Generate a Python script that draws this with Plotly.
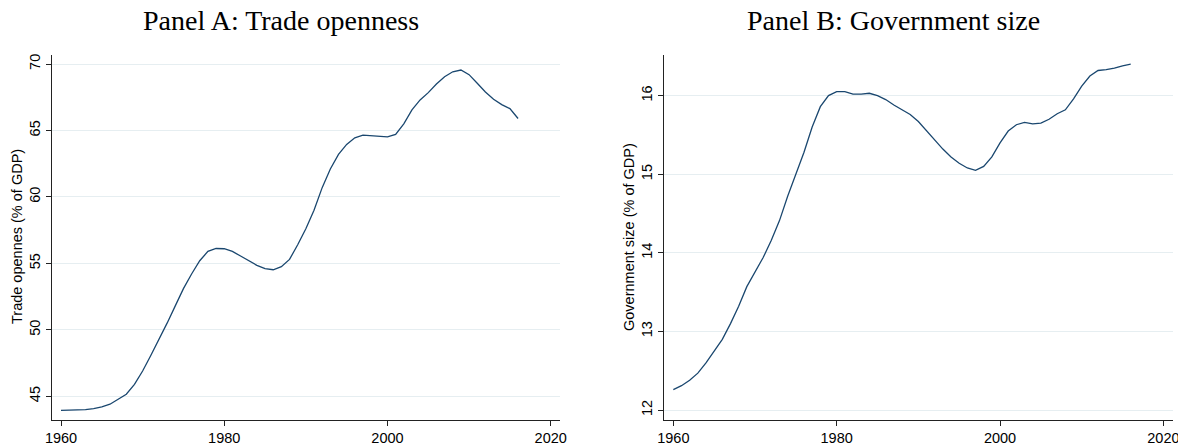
import plotly.graph_objects as go

years = list(range(1960, 2017))

trade_openness = [
    43.94, 43.95, 43.96, 44.00, 44.07, 44.20, 44.40, 44.75, 45.15, 45.90,
    46.90, 48.07, 49.27, 50.50, 51.80, 53.10, 54.20, 55.20, 55.90, 56.12,
    56.10, 55.90, 55.55, 55.20, 54.85, 54.60, 54.52, 54.75, 55.30, 56.40,
    57.60, 59.00, 60.70, 62.10, 63.20, 63.95, 64.45, 64.65, 64.62, 64.58,
    64.52, 64.70, 65.50, 66.55, 67.30, 67.85, 68.50, 69.05, 69.42, 69.55,
    69.20, 68.55, 67.90, 67.35, 66.95, 66.65, 65.90,
]

government_size = [
    12.26, 12.31, 12.38, 12.47, 12.60, 12.75, 12.90, 13.10, 13.32, 13.57,
    13.76, 13.94, 14.16, 14.41, 14.72, 15.01, 15.28, 15.60, 15.86, 16.00,
    16.05, 16.05, 16.02, 16.02, 16.03, 16.00, 15.95, 15.88, 15.82, 15.76,
    15.67, 15.55, 15.43, 15.32, 15.22, 15.14, 15.08, 15.05, 15.10, 15.22,
    15.40, 15.55, 15.63, 15.66, 15.64, 15.65, 15.70, 15.77, 15.82, 15.96,
    16.12, 16.25, 16.32, 16.33, 16.35, 16.38, 16.40,
]

x_ticks = [1960, 1980, 2000, 2020]
a_ticks = [45, 50, 55, 60, 65, 70]
b_ticks = [12, 13, 14, 15, 16]

panel_titles = ["Panel A: Trade openness", "Panel B: Government size"]
y_titles = ["Trade opennes (% of GDP)", "Government size (% of GDP)"]

# the page body has an 8px margin, so the figure is offset by 8px
OFF = 8
W, H = 1186 - OFF, 444 - OFF
LINE = "#1a476f"
GRID = "#e6eef1"
AXIS = "#222222"
SANS = "Liberation Sans, Arial, sans-serif"
SERIF = "Liberation Serif, Times New Roman, serif"


def px(x):
    return (x - OFF) / W


def py(y):
    return 1 - (y - OFF) / H


fig = go.Figure()
fig.add_trace(go.Scatter(x=years, y=trade_openness, mode="lines",
                         line=dict(color=LINE, width=1.3), xaxis="x", yaxis="y",
                         showlegend=False))
fig.add_trace(go.Scatter(x=years, y=government_size, mode="lines",
                         line=dict(color=LINE, width=1.3), xaxis="x2", yaxis="y2",
                         showlegend=False))

ydom = [py(419.5), py(55)]


def xax(domain, anchor):
    return dict(domain=domain, anchor=anchor, range=[1958.86, 2021.14],
                tickvals=x_ticks, ticks="outside", ticklen=5, tickwidth=1,
                tickcolor=AXIS, showline=True, linecolor=AXIS, linewidth=1,
                showgrid=False, zeroline=False, automargin=False,
                tickfont=dict(family=SANS, size=14.5, color="#000"))


def yax(rng, ticks, anchor):
    return dict(domain=ydom, anchor=anchor, range=rng, tickvals=ticks,
                ticks="outside", ticklen=5, tickwidth=1, tickcolor=AXIS,
                showline=True, linecolor=AXIS, linewidth=1,
                showgrid=True, gridcolor=GRID, gridwidth=1, zeroline=False,
                tickangle=-90, automargin=False,
                tickfont=dict(family=SANS, size=14.5, color="#000"))


annotations = [
    dict(text=panel_titles[0], x=px(281), y=py(21), xref="paper", yref="paper",
         xanchor="center", yanchor="middle", showarrow=False,
         font=dict(family=SERIF, size=28, color="#000")),
    dict(text=panel_titles[1], x=px(893.5), y=py(21), xref="paper", yref="paper",
         xanchor="center", yanchor="middle", showarrow=False,
         font=dict(family=SERIF, size=28, color="#000")),
    dict(text=y_titles[0], x=px(17), y=py(237), xref="paper", yref="paper",
         xanchor="center", yanchor="middle", textangle=-90, showarrow=False,
         font=dict(family=SANS, size=14.5, color="#000")),
    dict(text=y_titles[1], x=px(629), y=py(237), xref="paper", yref="paper",
         xanchor="center", yanchor="middle", textangle=-90, showarrow=False,
         font=dict(family=SANS, size=14.5, color="#000")),
]

fig.update_layout(
    width=W, height=H,
    margin=dict(l=0, r=0, t=0, b=0),
    paper_bgcolor="white", plot_bgcolor="white",
    xaxis=xax([px(51.7), px(560)], "y"),
    yaxis=yax([43.25, 70.68], a_ticks, "x"),
    xaxis2=xax([px(664), px(1172.7)], "y2"),
    yaxis2=yax([11.88, 16.517], b_ticks, "x2"),
    annotations=annotations,
)

fig.write_html("out.html")
